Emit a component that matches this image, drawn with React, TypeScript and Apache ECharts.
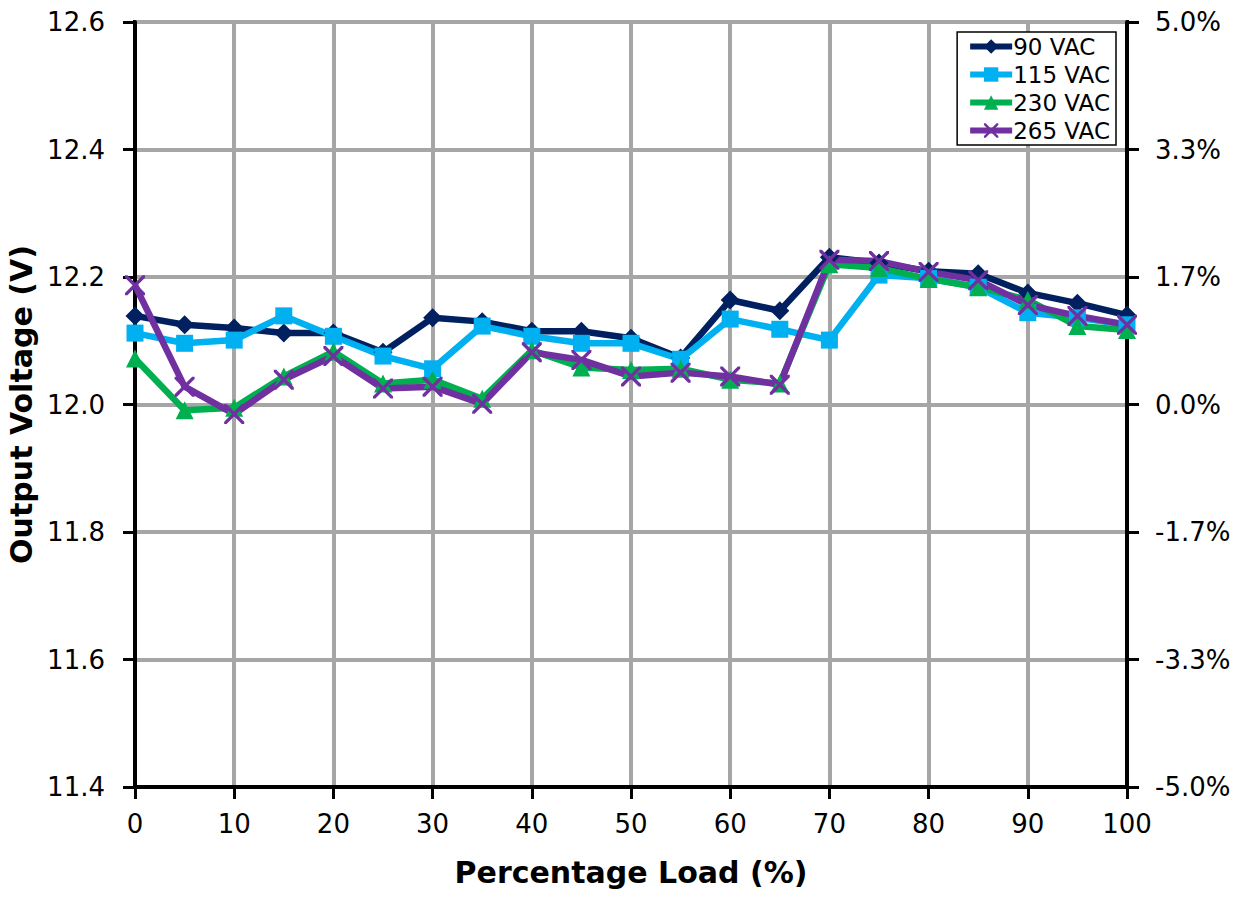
import React, { useEffect, useRef } from "react";
import * as echarts from "echarts";

const loads = [0, 5, 10, 15, 20, 25, 30, 35, 40, 45, 50, 55, 60, 65, 70, 75, 80, 85, 90, 95, 100];
const vac90 = [12.139, 12.125, 12.120, 12.112, 12.112, 12.082, 12.136, 12.130, 12.115, 12.115, 12.104, 12.073, 12.164, 12.147, 12.231, 12.222, 12.209, 12.205, 12.175, 12.159, 12.140];
const vac115 = [12.112, 12.096, 12.101, 12.139, 12.107, 12.076, 12.056, 12.123, 12.107, 12.096, 12.096, 12.071, 12.134, 12.118, 12.101, 12.203, 12.198, 12.184, 12.144, 12.136, 12.125];
const vac230 = [12.072, 11.991, 11.995, 12.044, 12.083, 12.033, 12.039, 12.009, 12.085, 12.058, 12.054, 12.056, 12.039, 12.033, 12.220, 12.214, 12.197, 12.184, 12.164, 12.123, 12.117];
const vac265 = [12.187, 12.028, 11.985, 12.039, 12.076, 12.025, 12.028, 12.001, 12.082, 12.070, 12.044, 12.050, 12.044, 12.031, 12.227, 12.225, 12.208, 12.195, 12.156, 12.139, 12.125];
const seriesNames = ["90 VAC", "115 VAC", "230 VAC", "265 VAC"];
const nominal = 12.0;

const FONT = "DejaVu Sans";
const xSymbol =
  "path://M0,0 L1.2,0 L10,8.8 L10,10 L8.8,10 L0,1.2 Z M8.8,0 L10,0 L10,1.2 L1.2,10 L0,10 L0,8.8 Z";

export default function App() {
  const ref = useRef<HTMLDivElement>(null);
  useEffect(() => {
    const chart = echarts.init(ref.current!, undefined, { renderer: "svg" });
    const mk = (name: string, vals: number[], color: string, symbol: string, size: number) => ({
      name,
      type: "line",
      data: loads.map((x, i) => [x, vals[i]]),
      symbol,
      symbolSize: size,
      lineStyle: { color, width: 6.5 },
      itemStyle: { color },
      z: 3,
    });
    chart.setOption({
      animation: false,
      backgroundColor: "#fff",
      grid: {
        left: 135,
        right: 119,
        top: 22,
        bottom: 110,
        outerBoundsMode: "none",
        containLabel: false,
        show: true,
        borderColor: "#000",
        borderWidth: 4,
      },
      legend: {
        right: 130,
        top: 32,
        orient: "vertical",
        backgroundColor: "#fff",
        borderColor: "#000",
        borderWidth: 1.5,
        padding: [3, 6, 3, 10],
        itemGap: 5,
        itemWidth: 42,
        itemHeight: 18,
        lineStyle: { width: 6 },
        textStyle: { fontFamily: FONT, fontSize: 23, color: "#000", padding: [0, 0, 0, -4] },
        data: seriesNames,
      },
      xAxis: {
        type: "value",
        min: 0,
        max: 100,
        interval: 10,
        name: "Percentage Load (%)",
        nameLocation: "middle",
        nameGap: 70,
        nameTextStyle: { fontFamily: FONT, fontSize: 30, fontWeight: "bold", color: "#000" },
        axisLine: { lineStyle: { color: "#000", width: 4 } },
        axisTick: { show: true, length: 12, lineStyle: { color: "#000", width: 3 } },
        axisLabel: { fontFamily: FONT, fontSize: 26, color: "#000", margin: 24 },
        splitLine: { show: true, lineStyle: { color: "#A6A6A6", width: 4 } },
      },
      yAxis: [
        {
          type: "value",
          min: 11.4,
          max: 12.6,
          interval: 0.2,
          name: "Output Voltage (V)",
          nameLocation: "middle",
          nameGap: 98,
          nameTextStyle: { fontFamily: FONT, fontSize: 30, fontWeight: "bold", color: "#000" },
          axisLine: { show: true, lineStyle: { color: "#000", width: 4 } },
          axisTick: { show: true, length: 12, lineStyle: { color: "#000", width: 3 } },
          axisLabel: {
            fontFamily: FONT,
            fontSize: 26,
            color: "#000",
            margin: 30,
            formatter: (v: number) => v.toFixed(1),
          },
          splitLine: { show: true, lineStyle: { color: "#A6A6A6", width: 4 } },
        },
        {
          type: "value",
          position: "right",
          min: 11.4,
          max: 12.6,
          interval: 0.2,
          axisLine: { show: true, lineStyle: { color: "#000", width: 4 } },
          axisTick: { show: true, length: 12, lineStyle: { color: "#000", width: 3 } },
          axisLabel: {
            fontFamily: FONT,
            fontSize: 26,
            color: "#000",
            margin: 28,
            formatter: (v: number) => (((v - nominal) / nominal) * 100).toFixed(1) + "%",
          },
          splitLine: { show: false },
        },
      ],
      series: [
        mk(seriesNames[0], vac90, "#002060", "diamond", 19),
        mk(seriesNames[1], vac115, "#00B0F0", "rect", 17),
        mk(seriesNames[2], vac230, "#00B050", "triangle", 18),
        mk(seriesNames[3], vac265, "#7030A0", xSymbol, 20),
      ],
    });
    return () => chart.dispose();
  }, []);
  return (
    <div
      ref={ref}
      style={{ position: "absolute", left: 0, top: 0, width: 1246, height: 897 }}
    />
  );
}
